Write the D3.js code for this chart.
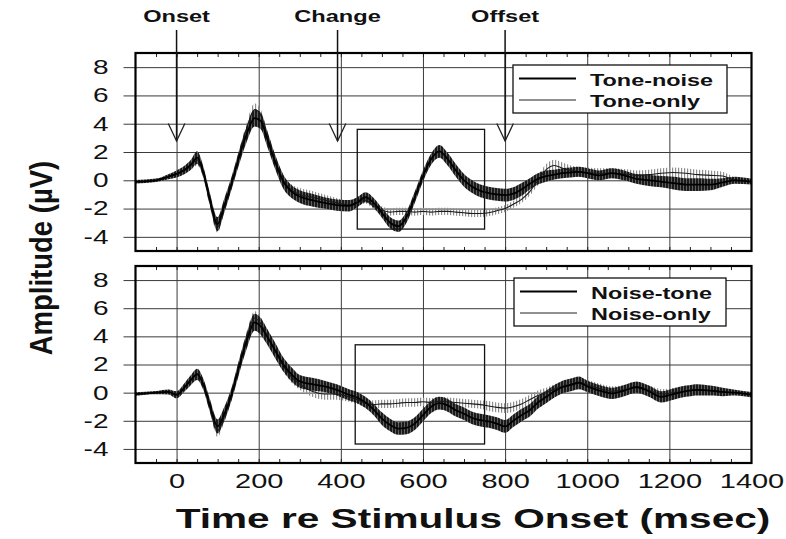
<!DOCTYPE html>
<html><head><meta charset="utf-8">
<script src="https://cdn.jsdelivr.net/npm/d3@7"></script>
<style>
body{margin:0;background:#fff}
svg{display:block;background:#fff}
text{font-family:"Liberation Sans",Arial,Helvetica,sans-serif;fill:#111}
</style>
</head><body>
<svg id="chart" width="786" height="539"></svg>
<script>
// ---------------- DATA ----------------
const times = [-100,-50,-20,0,20,35,50,65,80,100,115,135,150,170,190,205,220,240,260,280,300,330,360,390,420,440,460,480,500,520,540,560,580,600,620,640,660,680,700,720,740,760,780,800,820,840,860,880,900,920,940,960,980,1000,1030,1060,1090,1120,1150,1180,1210,1240,1270,1300,1330,1360,1400];

// Top panel
const toneNoise = [-0.1,0.0,0.25,0.45,0.75,1.1,1.6,0.6,-1.2,-3.1,-1.9,-0.1,1.4,3.2,4.4,4.2,3.0,1.3,-0.1,-0.8,-1.15,-1.4,-1.6,-1.75,-1.8,-1.55,-1.2,-1.6,-2.3,-3.0,-3.25,-2.6,-1.2,0.3,1.5,2.05,1.5,0.7,0.0,-0.45,-0.75,-0.9,-1.0,-1.05,-0.95,-0.65,-0.25,0.1,0.3,0.4,0.5,0.55,0.6,0.5,0.35,0.5,0.35,0.1,0.0,-0.1,-0.2,-0.3,-0.3,-0.3,-0.15,0.0,-0.1];
const toneNoiseSE = [0.12,0.12,0.18,0.25,0.3,0.35,0.45,0.4,0.45,0.5,0.5,0.45,0.5,0.55,0.6,0.6,0.55,0.5,0.5,0.45,0.45,0.45,0.4,0.4,0.4,0.35,0.35,0.35,0.35,0.4,0.4,0.4,0.4,0.4,0.4,0.45,0.45,0.45,0.45,0.45,0.45,0.45,0.45,0.45,0.45,0.45,0.4,0.4,0.4,0.35,0.35,0.35,0.35,0.35,0.35,0.35,0.35,0.35,0.4,0.4,0.45,0.45,0.45,0.4,0.3,0.25,0.2];
const toneOnly = [-0.1,0.0,0.25,0.45,0.7,1.0,1.45,0.5,-1.4,-3.3,-2.0,-0.2,1.5,3.6,5.0,4.6,3.2,1.4,0.0,-0.7,-1.0,-1.2,-1.4,-1.6,-1.75,-1.6,-1.4,-1.8,-2.1,-2.25,-2.2,-2.2,-2.25,-2.2,-2.25,-2.2,-2.2,-2.25,-2.3,-2.35,-2.35,-2.3,-2.15,-2.0,-1.7,-1.35,-0.8,0.0,0.75,1.05,0.85,0.7,0.6,0.55,0.5,0.5,0.45,0.35,0.4,0.5,0.55,0.5,0.4,0.35,0.3,0.0,-0.1];
const toneOnlySE = [0.1,0.1,0.15,0.15,0.2,0.25,0.4,0.3,0.35,0.4,0.35,0.3,0.35,0.4,0.45,0.4,0.4,0.4,0.35,0.4,0.45,0.45,0.4,0.35,0.3,0.25,0.25,0.25,0.25,0.25,0.25,0.25,0.25,0.25,0.25,0.25,0.25,0.25,0.25,0.25,0.25,0.25,0.25,0.25,0.25,0.25,0.3,0.35,0.4,0.4,0.4,0.35,0.35,0.35,0.35,0.35,0.35,0.35,0.35,0.35,0.35,0.35,0.35,0.35,0.3,0.2,0.15];

// Bottom panel
const noiseTone = [-0.1,0.0,0.05,-0.15,0.4,0.9,1.3,0.6,-0.8,-2.4,-1.6,0.0,1.6,3.6,5.0,4.7,4.0,3.0,2.0,1.3,0.8,0.6,0.45,0.2,-0.15,-0.35,-0.7,-1.2,-1.85,-2.3,-2.55,-2.5,-2.2,-1.6,-1.0,-0.75,-0.9,-1.25,-1.5,-1.8,-1.95,-2.05,-2.2,-2.4,-2.0,-1.6,-1.25,-0.7,-0.3,0.1,0.4,0.55,0.7,0.45,0.15,-0.05,0.15,0.4,0.1,-0.3,-0.1,0.1,0.2,0.15,0.05,0.0,-0.15];
const noiseToneSE = [0.12,0.12,0.18,0.25,0.3,0.35,0.4,0.4,0.45,0.5,0.5,0.45,0.5,0.55,0.6,0.6,0.55,0.55,0.5,0.5,0.45,0.45,0.4,0.4,0.4,0.4,0.4,0.4,0.45,0.45,0.45,0.45,0.45,0.45,0.45,0.45,0.45,0.45,0.45,0.45,0.45,0.45,0.45,0.45,0.45,0.45,0.45,0.45,0.45,0.45,0.45,0.45,0.45,0.4,0.4,0.4,0.4,0.4,0.4,0.4,0.4,0.4,0.4,0.35,0.3,0.2,0.2];
const noiseOnly = [-0.1,0.0,0.05,-0.1,0.4,0.9,1.35,0.6,-0.9,-2.7,-1.8,-0.1,1.6,3.8,5.3,4.9,4.1,3.0,1.9,1.1,0.6,0.1,-0.1,-0.1,-0.3,-0.5,-0.75,-0.85,-0.8,-0.8,-0.75,-0.7,-0.7,-0.65,-0.7,-0.6,-0.65,-0.7,-0.75,-0.8,-0.85,-0.95,-1.05,-1.1,-1.0,-0.8,-0.5,-0.2,0.0,0.25,0.45,0.6,0.75,0.55,0.3,0.1,0.2,0.35,0.15,-0.1,0.0,0.1,0.2,0.15,0.05,0.0,-0.15];
const noiseOnlySE = [0.1,0.1,0.15,0.15,0.2,0.25,0.3,0.3,0.35,0.45,0.4,0.35,0.4,0.45,0.5,0.45,0.45,0.45,0.4,0.4,0.4,0.4,0.4,0.4,0.35,0.3,0.3,0.3,0.3,0.3,0.3,0.3,0.3,0.3,0.3,0.3,0.3,0.3,0.3,0.3,0.3,0.35,0.35,0.35,0.35,0.35,0.35,0.35,0.35,0.35,0.35,0.35,0.35,0.35,0.35,0.35,0.35,0.35,0.35,0.35,0.35,0.35,0.35,0.3,0.25,0.15,0.15];

// Axes / annotations
const xTickLabels = [0,200,400,600,800,1000,1200,1400];
const xGridValues = [0,200,400,600,800,1000,1200];
const yTickLabels = [-4,-2,0,2,4,6,8];
const arrowTimes = [0,392,800];
const arrowLabels = ["Onset","Change","Offset"];
const topLegendLabels = ["Tone-noise","Tone-only"];
const bottomLegendLabels = ["Noise-tone","Noise-only"];
const topWindow = [440,750,-3.45,3.6];     // t0, t1, v0, v1
const bottomWindow = [435,750,-3.65,3.4];

// ---------------- DRAW ----------------
const svg = d3.select("#chart");
const defs = svg.append("defs");
const pd = defs.append("pattern").attr("id","hatchDark").attr("patternUnits","userSpaceOnUse").attr("width",3).attr("height",6);
pd.append("rect").attr("width",3).attr("height",6).attr("fill","#606060");
pd.append("rect").attr("width",2).attr("height",6).attr("fill","#1a1a1a");
const pl = defs.append("pattern").attr("id","hatchLight").attr("patternUnits","userSpaceOnUse").attr("width",3).attr("height",6);
pl.append("rect").attr("width",1.2).attr("height",6).attr("fill","#8e8e8e");

const x = d3.scaleLinear().domain([-100,1400]).range([135.5,751.5]);
const SX = 1.42;
function sText(parent, px, py, str, size, anchor, sx, weight){
  return parent.append("text")
    .attr("transform",`translate(${px},${py}) scale(${sx},1)`)
    .attr("text-anchor",anchor).attr("font-size",size)
    .attr("font-weight",weight||"normal").text(str);
}

const panels = [
  {top:53, bottom:251, thick:toneNoise, thickSE:toneNoiseSE, thin:toneOnly, thinSE:toneOnlySE,
   legend:topLegendLabels, win:topWindow, legY:65, legX:513, legW:214, xLabels:false},
  {top:266, bottom:463, thick:noiseTone, thickSE:noiseToneSE, thin:noiseOnly, thinSE:noiseOnlySE,
   legend:bottomLegendLabels, win:bottomWindow, legY:278, legX:514, legW:212, xLabels:true}
];

panels.forEach(p=>{
  const y = d3.scaleLinear().domain([-5,9]).range([p.bottom,p.top]);
  const g = svg.append("g");
  const w = x(1400)-x(-100), h = p.bottom-p.top;

  // horizontal grid
  const hg = g.append("g").attr("transform",`translate(${x(1400)},0)`)
    .call(d3.axisLeft(y).tickValues(yTickLabels).tickSize(w).tickFormat(""));
  hg.select(".domain").remove();
  hg.selectAll("line").attr("stroke","#3a3a3a").attr("stroke-width",1);

  // y labels + outer ticks
  const ya = g.append("g").attr("transform",`translate(${x(-100)},0)`)
    .call(d3.axisLeft(y).tickValues(yTickLabels).tickSize(12).tickPadding(15).tickFormat(d=>String(d)));
  ya.select(".domain").remove();
  ya.selectAll("line").attr("stroke","#3a3a3a").attr("stroke-width",1);
  ya.selectAll("text").attr("font-size",20).attr("fill","#222")
    .attr("font-family",'"Liberation Sans",Arial,sans-serif')
    .each(function(){const t=d3.select(this); const tx=+t.attr("x"); t.attr("x",0).attr("transform",`translate(${tx},0) scale(1.4,1)`);});

  // vertical grid
  const vg = g.append("g").attr("transform",`translate(0,${p.bottom})`)
    .call(d3.axisBottom(x).tickValues(xGridValues).tickSize(-h).tickFormat(""));
  vg.select(".domain").remove();
  vg.selectAll("line").attr("stroke","#3a3a3a").attr("stroke-width",1);

  // minor ticks (inside, top and bottom)
  const minor = d3.range(-50,1400,50);
  const mb = g.append("g").attr("transform",`translate(0,${p.bottom})`)
    .call(d3.axisBottom(x).tickValues(minor).tickSize(-4).tickFormat(""));
  mb.select(".domain").remove(); mb.selectAll("line").attr("stroke","#222");
  const mt = g.append("g").attr("transform",`translate(0,${p.top})`)
    .call(d3.axisTop(x).tickValues(minor).tickSize(-4).tickFormat(""));
  mt.select(".domain").remove(); mt.selectAll("line").attr("stroke","#222");

  // bands
  const idx = d3.range(times.length);
  const band = (vals,se)=>d3.area().curve(d3.curveMonotoneX)
    .x(i=>x(times[i])).y0(i=>y(vals[i]-se[i])).y1(i=>y(vals[i]+se[i]));
  g.append("path").datum(idx).attr("d",band(p.thin,p.thinSE)).attr("fill","url(#hatchLight)");
  g.append("path").datum(idx).attr("d",band(p.thick,p.thickSE)).attr("fill","url(#hatchDark)");

  const line = vals=>d3.line().curve(d3.curveMonotoneX).x(i=>x(times[i])).y(i=>y(vals[i]));
  g.append("path").datum(idx).attr("d",line(p.thin)).attr("fill","none").attr("stroke","#1a1a1a").attr("stroke-width",1.1);
  g.append("path").datum(idx).attr("d",line(p.thick)).attr("fill","none").attr("stroke","#000").attr("stroke-width",1.8);

  // analysis window
  g.append("rect").attr("x",x(p.win[0])).attr("y",y(p.win[3]))
    .attr("width",x(p.win[1])-x(p.win[0])).attr("height",y(p.win[2])-y(p.win[3]))
    .attr("fill","none").attr("stroke","#111").attr("stroke-width",1.3);

  // frame
  g.append("rect").attr("x",x(-100)).attr("y",p.top).attr("width",w).attr("height",h)
    .attr("fill","none").attr("stroke","#000").attr("stroke-width",2.2);

  // legend
  const lg = g.append("g");
  lg.append("rect").attr("x",p.legX).attr("y",p.legY).attr("width",p.legW).attr("height",48)
    .attr("fill","#fff").attr("stroke","#111").attr("stroke-width",1.3);
  [0,1].forEach(k=>{
    const ly = p.legY + 13.5 + k*21.5;
    lg.append("line").attr("x1",p.legX+6).attr("x2",p.legX+63).attr("y1",ly).attr("y2",ly)
      .attr("stroke",k===0?"#000":"#222").attr("stroke-width",k===0?2:1.2);
    sText(lg, p.legX+77, ly+7, p.legend[k], 16.5, "start", SX, "bold");
  });

  // x labels
  if(p.xLabels){
    const xa = g.append("g").attr("transform",`translate(0,${p.bottom})`)
      .call(d3.axisBottom(x).tickValues(xTickLabels).tickSize(0).tickPadding(10.5).tickFormat(d=>String(d)));
    xa.select(".domain").remove();
    xa.selectAll("text").attr("font-size",21).attr("fill","#222")
      .attr("font-family",'"Liberation Sans",Arial,sans-serif')
      .attr("transform","scale(1.38,1)");
  }

  // arrows (top panel)
  if(!p.xLabels){
    arrowTimes.forEach((t,k)=>{
      const ax = x(t);
      g.append("line").attr("x1",ax).attr("x2",ax).attr("y1",30).attr("y2",141)
        .attr("stroke","#111").attr("stroke-width",1.5);
      g.append("path").attr("d",`M${ax-8.3},123.5 L${ax},141 L${ax+8.3},123.5`)
        .attr("fill","none").attr("stroke","#222").attr("stroke-width",1.3);
      sText(svg, ax, 22, arrowLabels[k], 16.5, "middle", 1.43, "bold");
    });
  }
});

// axis titles
sText(svg, 473, 528, "Time re Stimulus Onset (msec)", 28, "middle", 1.45, "bold");
svg.append("text").attr("transform","translate(52,258) rotate(-90) scale(1,1.15)")
  .attr("text-anchor","middle").attr("font-size",27.5).attr("font-weight","bold")
  .text("Amplitude (µV)");
</script>
</body></html>
